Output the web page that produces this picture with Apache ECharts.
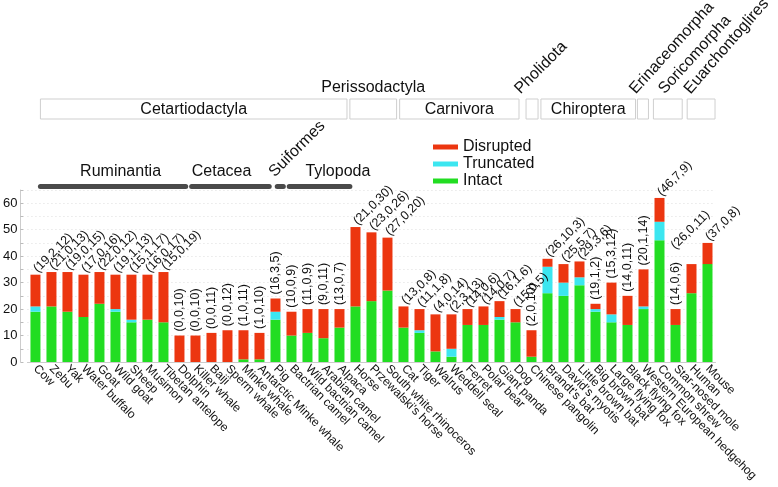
<!DOCTYPE html>
<html><head><meta charset="utf-8">
<script src="https://cdn.jsdelivr.net/npm/echarts@6/dist/echarts.min.js"></script>
<style>html,body{margin:0;padding:0;background:#fff}#c{width:778px;height:487px}</style>
</head><body><div id="c"></div>
<script>
const categories = ["Cow","Zebu","Yak","Water buffalo","Goat","Wild goat","Sheep","Musimon","Tibetan antelope",
 "Dolphin","Killer whale","Baiji","Sperm whale","Minke whale","Antarctic Minke whale",
 "Pig","Bactrian camel","Wild bactrian camel","Arabian camel","Alpaca",
 "Horse","Przewalski's horse","South white rhinoceros",
 "Cat","Tiger","Walrus","Weddell seal","Ferret","Polar bear","Giant panda","Dog",
 "Chinese pangolin",
 "Brandt's bat","David's myotis","Little brown bat","Big brown bat","Large flying fox","Black flying fox",
 "Western European hedgehog","Common shrew","Star-nosed mole","Human","Mouse"];
const intact    = [19,21,19,17,22,19,15,16,15, 0,0,0,0,1,1, 16,10,11,9,13, 21,23,27, 13,11,4,2,14,14,16,15, 2, 26,25,29,19,15,14, 20, 46,14, 26,37];
const truncated = [2,0,0,0,0,1,1,0,0, 0,0,0,0,0,0, 3,0,0,0,0, 0,0,0, 0,1,0,3,0,0,1,0, 0, 10,5,3,1,3,0, 1, 7,0, 0,0];
const disrupted = [12,13,15,16,12,13,17,17,19, 10,10,11,12,11,10, 5,9,9,11,7, 30,26,20, 8,8,14,13,6,7,6,5, 10, 3,7,6,2,12,11, 14, 9,6, 11,8];
const yTicks = [0,10,20,30,40,50,60];

// annotation groups (in category-axis units)
const orders = [["Cetartiodactyla",0.31,19.47],["Perissodactyla",19.65,22.57],["Carnivora",22.76,30.22],
  ["Pholidota",30.66,31.41],["Chiroptera",31.59,37.5],["Erinaceomorpha",37.62,38.31],
  ["Soricomorpha",38.62,40.42],["Euarchontoglires",40.73,42.47]];
const rotatedHeadU = {"Pholidota":[30.47,45],"Erinaceomorpha":[37.69,48],"Soricomorpha":[39.5,48],"Euarchontoglires":[41.1,49]};
const subgroups = [["Ruminantia",0.31,9.39],["Cetacea",9.76,14.61],["Suiformes",15.11,15.49],["Tylopoda",15.86,19.65]];
const verticalLabels = ["Dolphin","Killer whale","Baiji","Sperm whale","Minke whale","Antarctic Minke whale",
 "Pig","Bactrian camel","Wild bactrian camel","Arabian camel","Alpaca","Chinese pangolin",
 "Big brown bat","Large flying fox","Black flying fox","Western European hedgehog","Star-nosed mole"];

const RED='#ec3610', CYAN='#3ce6f0', GREEN='#22dd22';
const chart = echarts.init(document.getElementById('c'));
const topData = disrupted.map((d,i)=>({
  value:d,
  label:{rotate: verticalLabels.includes(categories[i]) ? 90 : 45,
    offset: categories[i]==='Human' ? [-4,-22] : [0,0],
    formatter: '(' + intact[i] + ',' + truncated[i] + ',' + d + ')'}
}));
chart.setOption({
  animation:false,
  grid:{left:24,right:62.5,top:190,bottom:125},
  legend:{data:['Disrupted','Truncated','Intact'],orient:'vertical',left:428,top:134,
    itemWidth:25,itemHeight:5,itemGap:1,icon:'rect',
    textStyle:{fontSize:16,color:'#111',fontFamily:'Liberation Sans, Arial'}},
  xAxis:{type:'category',data:categories,
    axisLine:{lineStyle:{color:'#ccc'}},axisTick:{show:false},
    axisLabel:{rotate:-45,interval:0,fontSize:12,color:'#111',margin:5,fontFamily:'Liberation Sans, Arial'}},
  yAxis:{type:'value',min:0,max:65,interval:5,offset:7,
    axisLine:{show:true,lineStyle:{color:'#ccc'}},
    axisTick:{show:true,inside:true,length:3,lineStyle:{color:'#bbb'}},
    splitLine:{lineStyle:{color:'#ddd',type:[1,3]}},
    axisLabel:{fontSize:13,color:'#111',margin:3,fontFamily:'Liberation Sans, Arial',
      formatter:v=> yTicks.includes(v) ? String(v) : ''}},
  series:[
    {name:'Intact',type:'bar',stack:'s',data:intact,barWidth:10,itemStyle:{color:GREEN}},
    {name:'Truncated',type:'bar',stack:'s',data:truncated,itemStyle:{color:CYAN}},
    {name:'Disrupted',type:'bar',stack:'s',data:topData,itemStyle:{color:RED},
      label:{show:true,position:'top',distance:4,align:'left',verticalAlign:'middle',
        fontSize:12.5,color:'#111',fontFamily:'Liberation Sans, Arial'}}
  ]
});

const x0 = chart.convertToPixel({xAxisIndex:0},0);
const band = chart.convertToPixel({xAxisIndex:0},1) - x0;
const px = u => x0 + u*band;
const font = '16px "Liberation Sans", Arial';
const g = [];
orders.forEach(([name,a,b])=>{
  const l=px(a), r=px(b);
  g.push({type:'rect',shape:{x:l,y:99,width:r-l,height:20},style:{fill:'none',stroke:'#cfcfcf',lineWidth:1}});
  if(name==='Perissodactyla'){
    g.push({type:'text',x:(l+r)/2,y:88,style:{text:name,font,fill:'#111',align:'center',verticalAlign:'middle'}});
  } else if(rotatedHeadU[name]!==undefined){
    const [u,deg]=rotatedHeadU[name];
    g.push({type:'text',x:px(u),y:97,rotation:deg*Math.PI/180,style:{text:name,font,fill:'#111',align:'left',verticalAlign:'bottom'}});
  } else {
    g.push({type:'text',x:(l+r)/2,y:109.5,style:{text:name,font,fill:'#111',align:'center',verticalAlign:'middle'}});
  }
});
const subTextU = {"Ruminantia":5.32,"Cetacea":11.63,"Tylopoda":18.9};
subgroups.forEach(([name,a,b])=>{
  g.push({type:'line',shape:{x1:px(a),y1:186.5,x2:px(b),y2:186.5},style:{stroke:'#4a4a4a',lineWidth:5,lineCap:'round'}});
  if(name==='Suiformes'){
    g.push({type:'text',x:px(a),y:180,rotation:Math.PI/4,style:{text:name,font,fill:'#111',align:'left',verticalAlign:'bottom'}});
  } else {
    g.push({type:'text',x:px(subTextU[name]),y:172,style:{text:name,font,fill:'#111',align:'center',verticalAlign:'middle'}});
  }
});
chart.setOption({graphic:g});
</script></body></html>
